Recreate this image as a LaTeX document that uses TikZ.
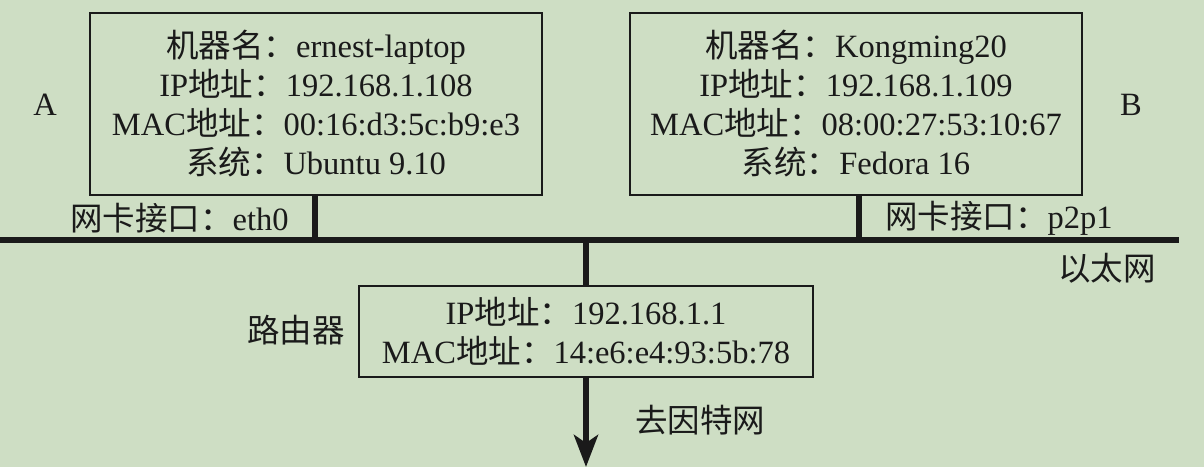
\documentclass[tikz,border=0pt]{standalone}
\usepackage{fontspec}
\setmainfont{Liberation Serif}
\newfontfamily\cjk{Noto Sans CJK SC}
\usetikzlibrary{arrows.meta}
\definecolor{bgc}{RGB}{206,222,196}
\definecolor{ink}{RGB}{26,26,26}
\tikzset{
  x=1pt,y=-1pt,
  hostbox/.style={draw=ink,line width=2pt,rectangle,inner sep=0pt,align=center,
    font=\fontsize{32.5}{39}\selectfont,text=ink},
  lbl/.style={inner sep=0pt,font=\fontsize{32.5}{39}\selectfont,text=ink},
  wire/.style={draw=ink,line width=6pt},
}
\newcommand{\zh}[1]{{\cjk #1}}
\begin{document}
\begin{tikzpicture}
\fill[bgc] (0,0) rectangle (1204,467);
\useasboundingbox (0,0) rectangle (1204,467);
% hosts
\node[hostbox,minimum width=452pt,minimum height=182pt] (A) at (316,104)
  {\zh{机器名：}ernest-laptop\\ IP\zh{地址：}192.168.1.108\\ MAC\zh{地址：}00:16:d3:5c:b9:e3\\ \zh{系统：}Ubuntu 9.10};
\node[hostbox,minimum width=452pt,minimum height=182pt] (B) at (856,104)
  {\zh{机器名：}Kongming20\\ IP\zh{地址：}192.168.1.109\\ MAC\zh{地址：}08:00:27:53:10:67\\ \zh{系统：}Fedora 16};
\node[hostbox,line width=2.5pt,minimum width=454pt,minimum height=91pt] (R) at (586,331.5)
  {IP\zh{地址：}192.168.1.1\\ MAC\zh{地址：}14:e6:e4:93:5b:78};
% labels
\node[lbl] (la) at (45,105) {A};
\node[lbl] (lb) at (1131,105) {B};
\node[lbl,anchor=west] (ia) at (70,218) {\zh{网卡接口：}eth0};
\node[lbl,anchor=west] (ib) at (885,218) {\zh{网卡接口：}p2p1};
\node[lbl,anchor=east] (eth) at (1156,268) {\zh{以太网}};
\node[lbl,anchor=east] (lr) at (345,330) {\zh{路由器}};
\node[lbl,anchor=west] (inet) at (635,420) {\zh{去因特网}};
% bus
\coordinate (busL) at (0,240);
\coordinate (busR) at (1179,240);
\coordinate (sA) at (315,240);
\coordinate (sB) at (859,240);
\coordinate (sR) at (586,240);
\coordinate (out) at (586,467);
\draw[wire] (busL) -- (busR);
\draw[wire] (A.south -| sA) -- (sA);
\draw[wire] (B.south -| sB) -- (sB);
\draw[wire] (sR) -- (R.north);
\draw[draw=ink,line width=6pt,-{Stealth[length=32pt,width=24pt,inset=8pt]}] (R.south) -- (out);
\end{tikzpicture}
\end{document}
